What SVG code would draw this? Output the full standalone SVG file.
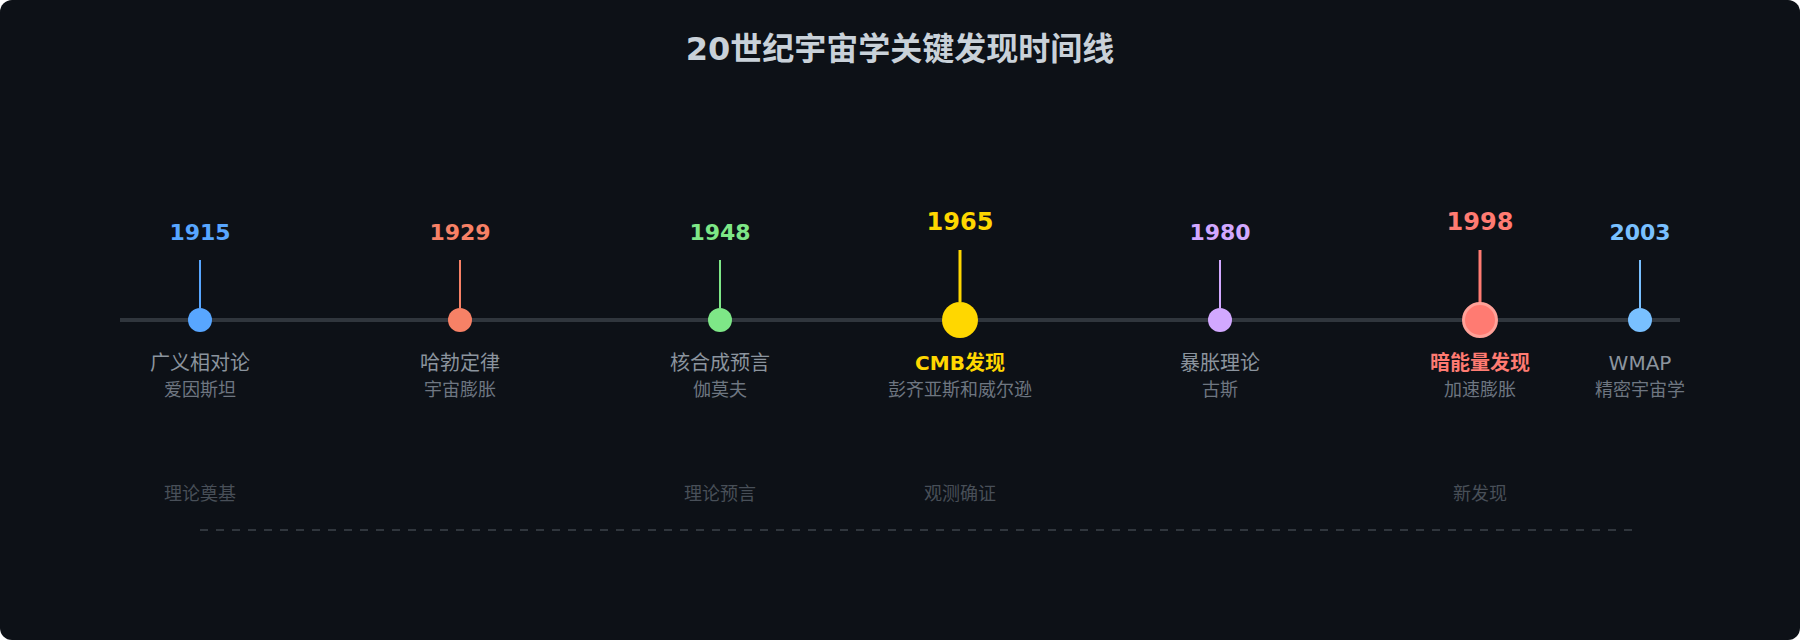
<svg xmlns="http://www.w3.org/2000/svg" width="1800" height="640" viewBox="0 0 1800 640">
  <style>
    text { font-family: "DejaVu Sans", "Noto Sans CJK SC", sans-serif; text-anchor: middle; }
    .heading { font-size: 32px; font-weight: bold; fill: #c9d1d9; }
    .year { font-size: 22px; font-weight: bold; }
    .year-big { font-size: 24px; font-weight: bold; }
    .label { font-size: 20px; fill: #8b949e; }
    .label-hl { font-size: 20px; font-weight: bold; }
    .sub { font-size: 18px; fill: #6e7681; }
    .era { font-size: 18px; fill: #484f58; }
    .stem { stroke-width: 2; }
    .stem-big { stroke-width: 3; }
  </style>
  <rect x="0" y="0" width="1800" height="640" rx="12" ry="12" fill="#0d1117"/>
  <text class="heading" x="900" y="60">20世纪宇宙学关键发现时间线</text>

  <g id="connectors">
    <line x1="120" y1="320" x2="1680" y2="320" stroke="#30363d" stroke-width="4"/>
    <line x1="200" y1="530" x2="1640" y2="530" stroke="#30363d" stroke-width="2" stroke-dasharray="8 8"/>
  </g>

  <g id="e1915">
    <line class="stem" x1="200" y1="260" x2="200" y2="308" stroke="#58a6ff"/>
    <circle cx="200" cy="320" r="12" fill="#58a6ff"/>
    <text class="year" x="200" y="240" fill="#58a6ff">1915</text>
    <text class="label" x="200" y="370">广义相对论</text>
    <text class="sub" x="200" y="396">爱因斯坦</text>
  </g>

  <g id="e1929">
    <line class="stem" x1="460" y1="260" x2="460" y2="308" stroke="#f78166"/>
    <circle cx="460" cy="320" r="12" fill="#f78166"/>
    <text class="year" x="460" y="240" fill="#f78166">1929</text>
    <text class="label" x="460" y="370">哈勃定律</text>
    <text class="sub" x="460" y="396">宇宙膨胀</text>
  </g>

  <g id="e1948">
    <line class="stem" x1="720" y1="260" x2="720" y2="308" stroke="#7ee787"/>
    <circle cx="720" cy="320" r="12" fill="#7ee787"/>
    <text class="year" x="720" y="240" fill="#7ee787">1948</text>
    <text class="label" x="720" y="370">核合成预言</text>
    <text class="sub" x="720" y="396">伽莫夫</text>
  </g>

  <g id="e1965">
    <line class="stem-big" x1="960" y1="250" x2="960" y2="302" stroke="#ffd700"/>
    <circle cx="960" cy="320" r="18" fill="#ffd700"/>
    <text class="year-big" x="960" y="230" fill="#ffd700">1965</text>
    <text class="label-hl" x="960" y="370" fill="#ffd700">CMB发现</text>
    <text class="sub" x="960" y="396">彭齐亚斯和威尔逊</text>
  </g>

  <g id="e1980">
    <line class="stem" x1="1220" y1="260" x2="1220" y2="308" stroke="#d2a8ff"/>
    <circle cx="1220" cy="320" r="12" fill="#d2a8ff"/>
    <text class="year" x="1220" y="240" fill="#d2a8ff">1980</text>
    <text class="label" x="1220" y="370">暴胀理论</text>
    <text class="sub" x="1220" y="396">古斯</text>
  </g>

  <g id="e1998">
    <line class="stem-big" x1="1480" y1="250" x2="1480" y2="303" stroke="#ff7b72"/>
    <circle cx="1480" cy="320" r="16.5" fill="#ff7b72" stroke="#ffa198" stroke-width="3"/>
    <text class="year-big" x="1480" y="230" fill="#ff7b72">1998</text>
    <text class="label-hl" x="1480" y="370" fill="#ff7b72">暗能量发现</text>
    <text class="sub" x="1480" y="396">加速膨胀</text>
  </g>

  <g id="e2003">
    <line class="stem" x1="1640" y1="260" x2="1640" y2="308" stroke="#79c0ff"/>
    <circle cx="1640" cy="320" r="12" fill="#79c0ff"/>
    <text class="year" x="1640" y="240" fill="#79c0ff">2003</text>
    <text class="label" x="1640" y="370">WMAP</text>
    <text class="sub" x="1640" y="396">精密宇宙学</text>
  </g>

  <g id="eras">
    <text class="era" x="200" y="500">理论奠基</text>
    <text class="era" x="720" y="500">理论预言</text>
    <text class="era" x="960" y="500">观测确证</text>
    <text class="era" x="1480" y="500">新发现</text>
  </g>
</svg>
